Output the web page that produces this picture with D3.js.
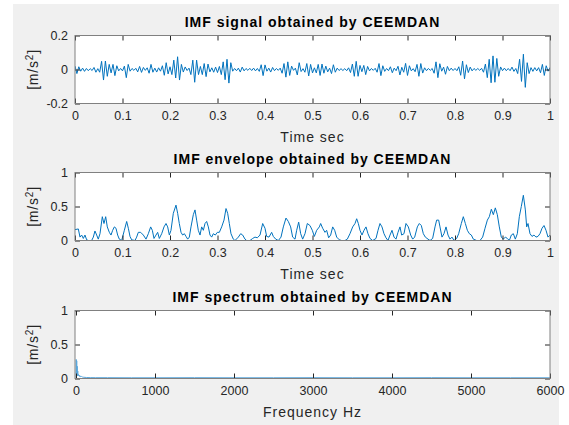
<!DOCTYPE html>
<html>
<head>
<meta charset="utf-8">
<script src="https://cdn.jsdelivr.net/npm/d3@7"></script>
<style>
  body { margin: 0; background: #fff; }
  text { font-family: "Liberation Sans", Arial, sans-serif; }
</style>
</head>
<body>
<div id="chart"></div>
<script>
// ---- data ----
const timeTicks = [0, 0.1, 0.2, 0.3, 0.4, 0.5, 0.6, 0.7, 0.8, 0.9, 1];
const timeTickLabels = ["0", "0.1", "0.2", "0.3", "0.4", "0.5", "0.6", "0.7", "0.8", "0.9", "1"];
const freqTicks = [0, 1000, 2000, 3000, 4000, 5000, 6000];
const sigTicks = [-0.2, 0, 0.2];
const sigTickLabels = ["-0.2", "0", "0.2"];
const unitTicks = [0, 0.5, 1];
const unitTickLabels = ["0", "0.5", "1"];

const titles = ["IMF signal obtained by CEEMDAN", "IMF envelope obtained by CEEMDAN", "IMF spectrum obtained by CEEMDAN"];

// IMF signal, one sample every 0.004 s
const signalDt = 0.004;
const signalValues = [
  0.020, -0.024, 0.016, -0.010, 0.008, -0.011, 0.006, -0.007, 0.005, -0.006,
  0.012, -0.016, 0.005, -0.016, 0.048, -0.062, 0.050, -0.040, 0.030, -0.020,
  0.030, -0.036, 0.022, -0.008, 0.006, -0.008, 0.020, -0.048, 0.030, -0.010,
  0.006, -0.005, 0.007, -0.014, 0.018, -0.017, 0.012, -0.005, 0.010, -0.022,
  0.030, -0.016, 0.008, -0.015, 0.010, -0.010, 0.022, -0.034, 0.040, -0.026,
  0.016, -0.030, 0.055, -0.050, 0.075, -0.062, 0.030, -0.015, 0.015, -0.006,
  0.008, -0.030, 0.055, -0.075, 0.055, -0.030, 0.018, -0.030, 0.035, -0.042,
  0.032, -0.014, 0.010, -0.016, 0.014, -0.018, 0.018, -0.030, 0.045, -0.060,
  0.060, -0.080, 0.040, -0.010, 0.006, -0.007, 0.008, -0.015, 0.014, -0.008,
  0.006, -0.005, 0.007, -0.006, 0.008, -0.008, 0.006, -0.011, 0.028, -0.036,
  0.027, -0.010, 0.008, -0.015, 0.012, -0.007, 0.006, -0.005, 0.008, -0.022,
  0.035, -0.045, 0.045, -0.035, 0.020, -0.005, 0.008, -0.032, 0.040, -0.012,
  0.005, -0.016, 0.035, -0.038, 0.030, -0.020, 0.010, -0.020, 0.030, -0.035,
  0.032, -0.022, 0.020, -0.014, 0.008, -0.024, 0.028, -0.016, 0.008, -0.006,
  0.005, -0.006, 0.005, -0.007, 0.010, -0.018, 0.032, -0.040, 0.048, -0.040,
  0.024, -0.013, 0.024, -0.030, 0.018, -0.008, 0.006, -0.005, 0.007, -0.016,
  0.035, -0.036, 0.022, -0.011, 0.006, -0.007, 0.016, -0.019, 0.008, -0.007,
  0.019, -0.032, 0.013, -0.016, 0.036, -0.035, 0.022, -0.008, 0.005, -0.013,
  0.030, -0.040, 0.035, -0.021, 0.010, -0.007, 0.006, -0.005, 0.006, -0.022,
  0.045, -0.048, 0.034, -0.010, 0.014, -0.028, 0.018, -0.007, 0.008, -0.006,
  0.006, -0.007, 0.016, -0.034, 0.050, -0.055, 0.028, -0.018, 0.014, -0.008,
  0.006, -0.005, 0.006, -0.005, 0.007, -0.016, 0.032, -0.048, 0.060, -0.078,
  0.080, -0.075, 0.065, -0.040, 0.015, -0.007, 0.008, -0.007, 0.006, -0.007,
  0.014, -0.011, 0.006, -0.024, 0.060, -0.070, 0.090, -0.105, 0.040, -0.024,
  0.011, -0.011, 0.011, -0.008, 0.011, -0.019, 0.030, -0.035, 0.022, -0.010,
  0.012
];

// envelope: time (s) and value
const envTime = [
  0.000, 0.007, 0.0105, 0.014, 0.0175, 0.021, 0.0246, 0.028, 0.035, 0.0386,
  0.042, 0.0456, 0.049, 0.0526, 0.0575, 0.061, 0.0646, 0.068, 0.0723, 0.0758,
  0.0793, 0.0828, 0.0863, 0.0898, 0.0933, 0.0982, 0.1039, 0.1088, 0.1123, 0.1158,
  0.1193, 0.1263, 0.1298, 0.1333, 0.1382, 0.1439, 0.1495, 0.1544, 0.1593, 0.1628,
  0.1663, 0.1705, 0.174, 0.1775, 0.1825, 0.1874, 0.1916, 0.1951, 0.1986, 0.2021,
  0.207, 0.2126, 0.2161, 0.2196, 0.2232, 0.2267, 0.2302, 0.2337, 0.2372, 0.2407,
  0.2442, 0.2491, 0.2526, 0.2561, 0.2596, 0.2632, 0.2667, 0.2702, 0.2737, 0.2772,
  0.2807, 0.2842, 0.2877, 0.2912, 0.2954, 0.2996, 0.3039, 0.3088, 0.3137, 0.3179,
  0.3214, 0.3249, 0.3284, 0.3333, 0.3368, 0.3439, 0.3488, 0.353, 0.3579, 0.3614,
  0.3684, 0.374, 0.3789, 0.3839, 0.3895, 0.3951, 0.4, 0.4035, 0.4084, 0.414,
  0.4175, 0.4225, 0.4281, 0.4337, 0.4386, 0.4442, 0.4491, 0.454, 0.4582, 0.4632,
  0.4667, 0.4709, 0.4751, 0.4793, 0.4842, 0.4891, 0.4947, 0.4996, 0.5039, 0.5088,
  0.5144, 0.5172, 0.5214, 0.5263, 0.5298, 0.534, 0.5382, 0.5425, 0.5467, 0.5509,
  0.5565, 0.5614, 0.5684, 0.5733, 0.5789, 0.5846, 0.5895, 0.593, 0.5965, 0.6,
  0.6042, 0.6084, 0.6126, 0.6168, 0.6211, 0.6267, 0.6337, 0.6379, 0.6421, 0.6463,
  0.6505, 0.6547, 0.6589, 0.6632, 0.6674, 0.6716, 0.6758, 0.68, 0.6842, 0.6877,
  0.6926, 0.6968, 0.7018, 0.7067, 0.7109, 0.7151, 0.7207, 0.7249, 0.7291, 0.7333,
  0.7375, 0.7432, 0.7474, 0.7529, 0.7579, 0.7614, 0.7656, 0.7684, 0.7726, 0.7768,
  0.7811, 0.7853, 0.7895, 0.7937, 0.7979, 0.8035, 0.8077, 0.8133, 0.8175, 0.8218,
  0.826, 0.8302, 0.8344, 0.8386, 0.8456, 0.8526, 0.8582, 0.8632, 0.8681, 0.8723,
  0.8765, 0.8807, 0.8849, 0.8891, 0.8933, 0.8975, 0.9018, 0.906, 0.9102, 0.9144,
  0.9186, 0.9228, 0.927, 0.9312, 0.9354, 0.9396, 0.9439, 0.9481, 0.9509, 0.9537,
  0.9579, 0.9621, 0.9663, 0.9705, 0.9747, 0.9789, 0.9832, 0.9874, 0.9916, 0.9958,
  1.0
];
const envValue = [
  0.16, 0.17, 0.05, 0.08, 0.03, 0.08, 0.01, 0.00, 0.00, 0.05,
  0.14, 0.08, 0.02, 0.10, 0.35, 0.25, 0.35, 0.20, 0.12, 0.08,
  0.15, 0.20, 0.18, 0.08, 0.02, 0.00, 0.15, 0.28, 0.18, 0.06,
  0.01, 0.00, 0.05, 0.12, 0.12, 0.08, 0.02, 0.10, 0.20, 0.15,
  0.03, 0.08, 0.12, 0.03, 0.10, 0.20, 0.25, 0.20, 0.08, 0.15,
  0.40, 0.52, 0.40, 0.25, 0.12, 0.08, 0.10, 0.06, 0.02, 0.05,
  0.20, 0.38, 0.45, 0.30, 0.15, 0.08, 0.20, 0.15, 0.25, 0.28,
  0.20, 0.08, 0.05, 0.10, 0.08, 0.12, 0.12, 0.20, 0.30, 0.47,
  0.40, 0.25, 0.10, 0.02, 0.00, 0.05, 0.10, 0.08, 0.02, 0.00,
  0.00, 0.03, 0.05, 0.04, 0.08, 0.25, 0.18, 0.06, 0.05, 0.12,
  0.06, 0.02, 0.00, 0.05, 0.20, 0.33, 0.28, 0.20, 0.05, 0.02,
  0.15, 0.27, 0.10, 0.02, 0.10, 0.25, 0.22, 0.15, 0.06, 0.15,
  0.20, 0.25, 0.18, 0.12, 0.15, 0.04, 0.08, 0.20, 0.15, 0.05,
  0.01, 0.00, 0.00, 0.02, 0.10, 0.20, 0.25, 0.32, 0.25, 0.15,
  0.08, 0.15, 0.20, 0.10, 0.03, 0.00, 0.03, 0.15, 0.25, 0.20,
  0.10, 0.04, 0.00, 0.08, 0.15, 0.05, 0.02, 0.12, 0.20, 0.08,
  0.10, 0.25, 0.20, 0.08, 0.02, 0.05, 0.20, 0.25, 0.22, 0.10,
  0.05, 0.02, 0.00, 0.03, 0.20, 0.30, 0.30, 0.20, 0.05, 0.10,
  0.20, 0.08, 0.02, 0.05, 0.00, 0.03, 0.10, 0.25, 0.35, 0.25,
  0.15, 0.10, 0.08, 0.02, 0.00, 0.00, 0.05, 0.18, 0.30, 0.35,
  0.46, 0.38, 0.48, 0.38, 0.20, 0.05, 0.02, 0.05, 0.03, 0.00,
  0.08, 0.10, 0.02, 0.10, 0.35, 0.50, 0.665, 0.45, 0.20, 0.25,
  0.10, 0.06, 0.08, 0.05, 0.06, 0.10, 0.18, 0.22, 0.15, 0.05,
  0.08
];

// spectrum: frequency (Hz) and amplitude
const specFreq = [0, 3, 6, 9, 12, 15, 18, 22, 26, 30, 35, 40, 45, 50, 60, 70, 85, 100, 130, 180, 250, 400, 700, 1000, 1500, 2000, 2500, 3000, 3500, 4000, 4500, 5000, 5500, 6000];
const specAmp = [0.0, 0.28, 0.08, 0.26, 0.05, 0.18, 0.04, 0.11, 0.05, 0.06, 0.04, 0.05, 0.03, 0.04, 0.025, 0.03, 0.02, 0.018, 0.015, 0.013, 0.012, 0.012, 0.011, 0.011, 0.012, 0.011, 0.011, 0.012, 0.011, 0.011, 0.012, 0.011, 0.011, 0.011];

// ---- layout ----
const W = 569, H = 425;
const left = 75, right = 550, plotH = 68;
const tops = [35.5, 172.5, 310.5];
const lineColor = "#0072BD";
const textColor = "#262626";
const axisColor = "#808080";

const svg = d3.select("#chart").append("svg")
  .attr("width", W).attr("height", H);

svg.append("rect")
  .attr("x", 13).attr("y", 4).attr("width", 546).attr("height", 421)
  .attr("fill", "#f0f0f0");

function panel(k, xScale, yScale, xTicks, xLabels, yTicks, yLabels, xTitle) {
  const top = tops[k];
  const g = svg.append("g");

  g.append("rect")
    .attr("x", left).attr("y", top).attr("width", right - left).attr("height", plotH)
    .attr("fill", "#fff");

  const clipId = "clip" + k;
  svg.append("clipPath").attr("id", clipId)
    .append("rect").attr("x", left).attr("y", top).attr("width", right - left).attr("height", plotH);

  const plotG = g.append("g").attr("clip-path", "url(#" + clipId + ")");

  // axes with inward ticks, labels only bottom/left
  const bottom = g.append("g").attr("transform", "translate(0," + (top + plotH) + ")")
    .call(d3.axisBottom(xScale).tickValues(xTicks).tickSize(-5).tickPadding(8)
      .tickFormat((d, i) => xLabels[i]));
  const topAx = g.append("g").attr("transform", "translate(0," + top + ")")
    .call(d3.axisTop(xScale).tickValues(xTicks).tickSize(-5).tickFormat(""));
  const leftAx = g.append("g").attr("transform", "translate(" + left + ",0)")
    .call(d3.axisLeft(yScale).tickValues(yTicks).tickSize(-5).tickPadding(7)
      .tickFormat((d, i) => yLabels[i]));
  const rightAx = g.append("g").attr("transform", "translate(" + right + ",0)")
    .call(d3.axisRight(yScale).tickValues(yTicks).tickSize(-5).tickFormat(""));

  [bottom, topAx, leftAx, rightAx].forEach(a => {
    a.select(".domain").remove();
    a.selectAll("line").attr("stroke", "#262626");
    a.selectAll("text").attr("fill", textColor)
      .style("font-family", "'Liberation Sans', Arial, sans-serif")
      .style("font-size", "12.5px");
  });

  // title
  g.append("text")
    .attr("x", (left + right) / 2).attr("y", top - 8.5)
    .attr("text-anchor", "middle")
    .style("font-weight", "bold").style("font-size", "14px")
    .style("letter-spacing", "1px")
    .attr("fill", "#000")
    .text(titles[k]);

  // x label
  g.append("text")
    .attr("x", (left + right) / 2).attr("y", top + plotH + 38)
    .attr("text-anchor", "middle")
    .style("font-size", "14px").style("letter-spacing", "1px")
    .attr("fill", textColor)
    .text(xTitle);

  // y label
  const yl = g.append("text")
    .attr("transform", "translate(38," + (top + plotH / 2) + ") rotate(-90)")
    .attr("text-anchor", "middle")
    .style("font-size", "14px").style("letter-spacing", "0.8px")
    .attr("fill", textColor);
  yl.append("tspan").text("[m/s");
  yl.append("tspan").attr("dy", -5).style("font-size", "10px").text("2");
  yl.append("tspan").attr("dy", 5).text("]");

  return { g, plotG, top };
}

function frame(p) {
  p.g.append("rect")
    .attr("x", left).attr("y", p.top).attr("width", right - left).attr("height", plotH)
    .attr("fill", "none").attr("stroke", axisColor).attr("stroke-width", 1);
}

const xTime = d3.scaleLinear().domain([0, 1]).range([left, right]);
const xFreq = d3.scaleLinear().domain([0, 6000]).range([left + 1, right]);
const ySig = d3.scaleLinear().domain([-0.2, 0.2]).range([tops[0] + plotH, tops[0]]);
const yEnv = d3.scaleLinear().domain([0, 1]).range([tops[1] + plotH, tops[1]]);
const ySpec = d3.scaleLinear().domain([0, 1]).range([tops[2] + plotH, tops[2]]);

const p1 = panel(0, xTime, ySig, timeTicks, timeTickLabels, sigTicks, sigTickLabels, "Time sec");
const p2 = panel(1, xTime, yEnv, timeTicks, timeTickLabels, unitTicks, unitTickLabels, "Time sec");
const p3 = panel(2, xFreq, ySpec, freqTicks, freqTicks.map(String), unitTicks, unitTickLabels, "Frequency Hz");

const sigLine = d3.line()
  .x((d, i) => xTime(i * signalDt))
  .y(d => ySig(d));
p1.plotG.append("path").datum(signalValues)
  .attr("d", sigLine).attr("fill", "none")
  .attr("stroke", lineColor).attr("stroke-width", 1);

const envLine = d3.line()
  .x((d, i) => xTime(envTime[i]))
  .y(d => yEnv(d));
p2.plotG.append("path").datum(envValue)
  .attr("d", envLine).attr("fill", "none")
  .attr("stroke", lineColor).attr("stroke-width", 1);

const specLine = d3.line()
  .x((d, i) => xFreq(specFreq[i]))
  .y(d => ySpec(d));
p3.plotG.append("path").datum(specAmp)
  .attr("d", specLine).attr("fill", "none")
  .attr("stroke", "#5aa7dc").attr("stroke-width", 1);

[p1, p2, p3].forEach(frame);
</script>
</body>
</html>
